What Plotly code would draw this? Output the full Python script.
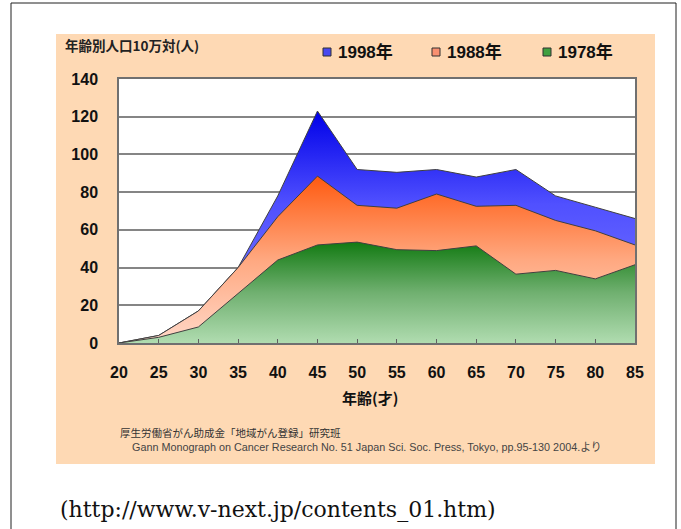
import plotly.graph_objects as go

ages = [20, 25, 30, 35, 40, 45, 50, 55, 60, 65, 70, 75, 80, 85]
tick_labels = [str(a) for a in ages]
y_1998 = [0, 4, 17, 40, 78, 123, 92, 90.5, 92, 88, 92, 78, 72, 66]
y_1988 = [0, 4, 17, 40, 67, 88.5, 73, 71.5, 79, 72.5, 73, 65, 59.5, 52]
y_1978 = [0, 3, 8.5, 26, 44, 52, 53.5, 49.5, 49, 51.5, 36.5, 38.5, 34, 41.5]
series_names = ["1998年", "1988年", "1978年"]
legend_colors = ["#4848f0", "#f89070", "#40a040"]

# plot-area geometry in pixels (for decorative shapes / annotations)
W, H = 681, 529
L, R, T, B = 119, 635, 79, 343


def px(x):
    return (x - L) / (R - L)


def py(y):
    return (B - y) / (B - T)


fig = go.Figure()

grads = [
    [[0, "#8080ff"], [0.6, "#5050ff"], [1, "#0000e8"]],
    [[0, "#ffd8c8"], [0.5, "#ffa880"], [1, "#ff5a10"]],
    [[0, "#b0dcb0"], [0.5, "#70b070"], [1, "#127a12"]],
]
for name, ys, g in zip(series_names, [y_1998, y_1988, y_1978], grads):
    fig.add_trace(go.Scatter(
        x=ages, y=ys, name=name, mode="lines",
        line=dict(color="#404040", width=1),
        fill="tozeroy",
        fillgradient=dict(type="vertical", colorscale=g, start=0, stop=max(ys)),
        showlegend=False,
    ))

shapes = []
# outer frame
shapes.append(dict(type="rect", xref="paper", yref="paper",
                   x0=px(11), x1=px(676), y0=py(3), y1=py(540),
                   line=dict(color="#202020", width=1), fillcolor="white", layer="below"))
# peach panel
shapes.append(dict(type="rect", xref="paper", yref="paper",
                   x0=px(56), x1=px(655), y0=py(34), y1=py(464),
                   line=dict(width=0), fillcolor="#fed9b4", layer="below"))
# white plot area
shapes.append(dict(type="rect", xref="paper", yref="paper",
                   x0=0, x1=1, y0=0, y1=1,
                   line=dict(width=0), fillcolor="white", layer="below"))

annotations = []
# legend
leg_x = [327, 436, 547]
for name, col, lx in zip(series_names, legend_colors, leg_x):
    shapes.append(dict(type="rect", xref="paper", yref="paper",
                       x0=px(lx - 4), x1=px(lx + 4), y0=py(56), y1=py(48),
                       line=dict(color="#303030", width=1), fillcolor=col))
    annotations.append(dict(xref="paper", yref="paper", x=px(lx + 9), y=py(52),
                            text=name, showarrow=False, xanchor="left", yanchor="middle",
                            font=dict(family="Liberation Sans, Noto Sans CJK JP", size=17,
                                      color="#111", weight="bold")))

annotations.append(dict(xref="paper", yref="paper", x=px(63), y=py(45),
                        text="年齢別人口10万対(人)", showarrow=False, xanchor="left", yanchor="middle",
                        font=dict(family="Noto Sans CJK JP", size=13.5, color="#222", weight="bold")))
annotations.append(dict(xref="paper", yref="paper", x=px(370), y=py(397),
                        text="年齢(才)", showarrow=False, xanchor="center", yanchor="middle",
                        font=dict(family="Noto Sans CJK JP", size=15, color="#111", weight="bold")))
annotations.append(dict(xref="paper", yref="paper", x=px(118), y=py(432),
                        text="厚生労働省がん助成金「地域がん登録」研究班", showarrow=False,
                        xanchor="left", yanchor="middle",
                        font=dict(family="Noto Sans CJK JP", size=10.5, color="#333")))
annotations.append(dict(xref="paper", yref="paper", x=px(130), y=py(447),
                        text="Gann Monograph on Cancer Research No. 51 Japan Sci. Soc. Press, Tokyo, pp.95-130 2004.より",
                        showarrow=False, xanchor="left", yanchor="middle",
                        font=dict(family="Liberation Sans, Noto Sans CJK JP", size=10.8, color="#444")))
annotations.append(dict(xref="paper", yref="paper", x=px(58), y=py(509),
                        text="(http://www.v-next.jp/contents_01.htm)", showarrow=False,
                        xanchor="left", yanchor="middle",
                        font=dict(family="DejaVu Serif", size=22, color="#111")))

fig.update_layout(
    width=W, height=H,
    margin=dict(l=L, r=W - R, t=T, b=H - B, pad=0),
    paper_bgcolor="white", plot_bgcolor="white",
    shapes=shapes, annotations=annotations,
    showlegend=False,
)
fig.update_xaxes(
    range=[20, 85], tickvals=ages, ticktext=tick_labels,
    ticks="inside", ticklen=4, tickcolor="#606060",
    showgrid=False, zeroline=False,
    showline=True, mirror=True, linecolor="#707070", linewidth=1.5,
    ticklabelstandoff=14,
    tickfont=dict(family="Liberation Sans", size=16, color="#111", weight="bold"),
)
fig.update_yaxes(
    range=[0, 140], tickvals=list(range(0, 141, 20)),
    ticks="", showgrid=True, gridcolor="#858585", gridwidth=1.5,
    zeroline=False,
    showline=True, mirror=True, linecolor="#707070", linewidth=1.5,
    ticklabelstandoff=16,
    tickfont=dict(family="Liberation Sans", size=16, color="#111", weight="bold"),
)

fig.write_html("out.html",
               config={"displayModeBar": False},
               post_script="document.body.style.margin='0';document.body.style.overflow='hidden';")
